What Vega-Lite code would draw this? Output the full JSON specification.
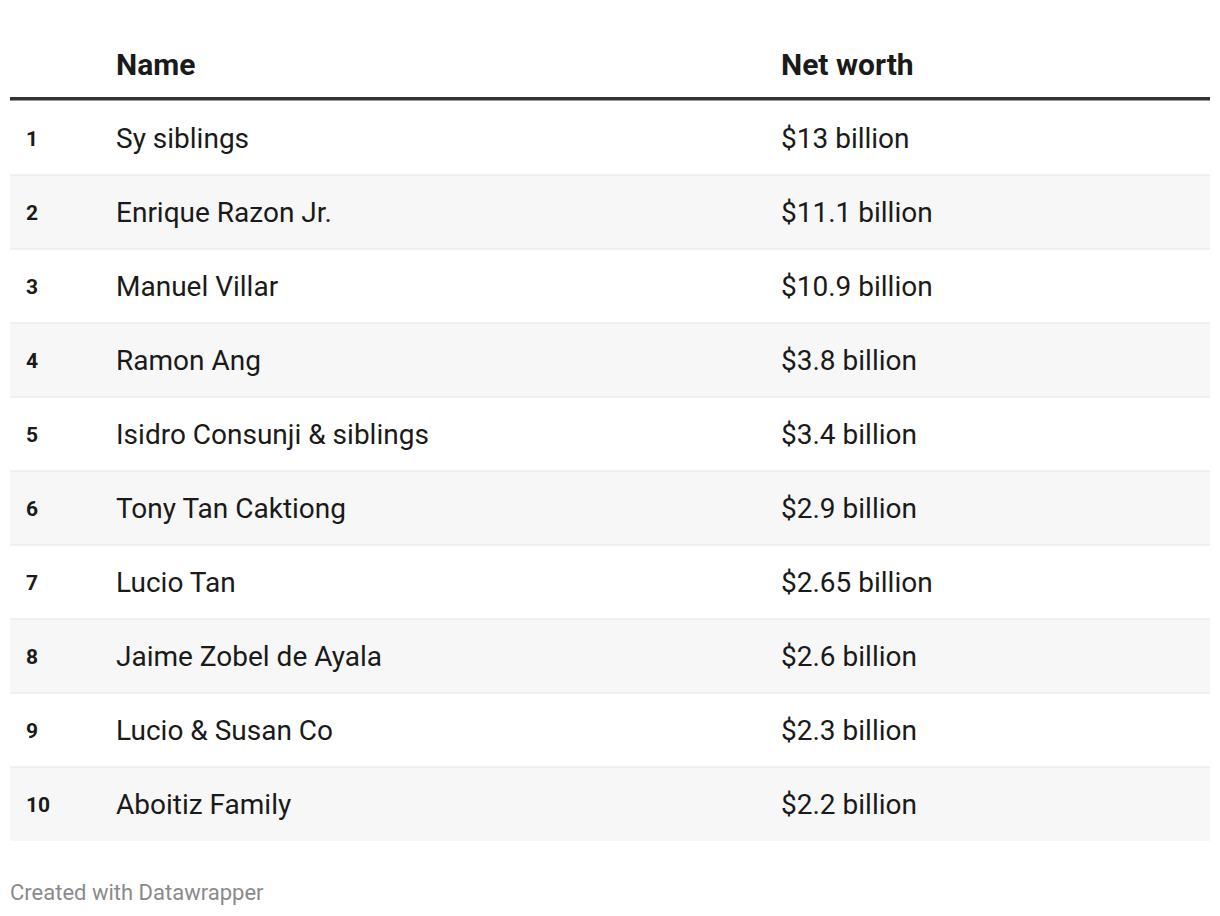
{
  "$schema": "https://vega.github.io/schema/vega-lite/v6.json",
  "width": 1220,
  "height": 916,
  "autosize": {"type": "fit", "contains": "padding"},
  "padding": 0,
  "background": "white",
  "config": {"view": {"stroke": null}, "font": "Roboto"},
  "datasets": {
    "rows": [
      {"rank": 1, "name": "Sy siblings", "worth": "$13 billion"},
      {"rank": 2, "name": "Enrique Razon Jr.", "worth": "$11.1 billion"},
      {"rank": 3, "name": "Manuel Villar", "worth": "$10.9 billion"},
      {"rank": 4, "name": "Ramon Ang", "worth": "$3.8 billion"},
      {"rank": 5, "name": "Isidro Consunji & siblings", "worth": "$3.4 billion"},
      {"rank": 6, "name": "Tony Tan Caktiong", "worth": "$2.9 billion"},
      {"rank": 7, "name": "Lucio Tan", "worth": "$2.65 billion"},
      {"rank": 8, "name": "Jaime Zobel de Ayala", "worth": "$2.6 billion"},
      {"rank": 9, "name": "Lucio & Susan Co", "worth": "$2.3 billion"},
      {"rank": 10, "name": "Aboitiz Family", "worth": "$2.2 billion"}
    ],
    "header": [
      {"col": 116, "label": "Name"},
      {"col": 781, "label": "Net worth"}
    ]
  },
  "layer": [
    {
      "data": {"name": "rows"},
      "transform": [
        {"filter": "datum.rank % 2 == 0"},
        {"calculate": "datum.rank - 0.5", "as": "top"},
        {"calculate": "datum.rank + 0.5", "as": "bottom"}
      ],
      "mark": {"type": "rect", "color": "#f7f7f7"},
      "encoding": {
        "x": {"datum": 10, "type": "quantitative", "scale": {"domain": [0, 1220], "nice": false, "zero": false}, "axis": null},
        "x2": {"datum": 1210},
        "y": {"field": "top", "type": "quantitative", "scale": {"domain": [-0.8649, 11.5135], "reverse": true, "nice": false, "zero": false}, "axis": null},
        "y2": {"field": "bottom"}
      }
    },
    {
      "data": {"name": "rows"},
      "transform": [
        {"filter": "datum.rank < 10"},
        {"calculate": "datum.rank + 0.5", "as": "sep"}
      ],
      "mark": {"type": "rule", "color": "#e3e3e3", "strokeWidth": 1},
      "encoding": {
        "x": {"datum": 10, "type": "quantitative"},
        "x2": {"datum": 1210},
        "y": {"field": "sep", "type": "quantitative"}
      }
    },
    {
      "data": {"values": [{"pos": 0.47}]},
      "mark": {"type": "rule", "color": "#333333", "strokeWidth": 3.5},
      "encoding": {
        "x": {"datum": 10, "type": "quantitative"},
        "x2": {"datum": 1210},
        "y": {"field": "pos", "type": "quantitative"}
      }
    },
    {
      "data": {"name": "header"},
      "mark": {"type": "text", "align": "left", "baseline": "middle", "fontSize": 30, "fontWeight": "bold", "color": "#1a1a1a", "dy": 1.5},
      "encoding": {
        "x": {"field": "col", "type": "quantitative"},
        "y": {"datum": 0, "type": "quantitative"},
        "text": {"field": "label"}
      }
    },
    {
      "data": {"name": "rows"},
      "mark": {"type": "text", "align": "left", "baseline": "middle", "fontSize": 21, "fontWeight": "bold", "color": "#1a1a1a", "dy": 1.5},
      "encoding": {
        "x": {"datum": 26, "type": "quantitative"},
        "y": {"field": "rank", "type": "quantitative"},
        "text": {"field": "rank", "type": "nominal"}
      }
    },
    {
      "data": {"name": "rows"},
      "mark": {"type": "text", "align": "left", "baseline": "middle", "fontSize": 28, "color": "#1a1a1a", "dy": 1.5},
      "encoding": {
        "x": {"datum": 116, "type": "quantitative"},
        "y": {"field": "rank", "type": "quantitative"},
        "text": {"field": "name"}
      }
    },
    {
      "data": {"name": "rows"},
      "mark": {"type": "text", "align": "left", "baseline": "middle", "fontSize": 28, "color": "#1a1a1a", "dy": 1.5},
      "encoding": {
        "x": {"datum": 781, "type": "quantitative"},
        "y": {"field": "rank", "type": "quantitative"},
        "text": {"field": "worth"}
      }
    },
    {
      "data": {"values": [{"pos": 11.189, "label": "Created with Datawrapper"}]},
      "mark": {"type": "text", "align": "left", "baseline": "middle", "fontSize": 22, "color": "#8a8a8a", "dy": 1.5},
      "encoding": {
        "x": {"datum": 10, "type": "quantitative"},
        "y": {"field": "pos", "type": "quantitative"},
        "text": {"field": "label"}
      }
    }
  ]
}
